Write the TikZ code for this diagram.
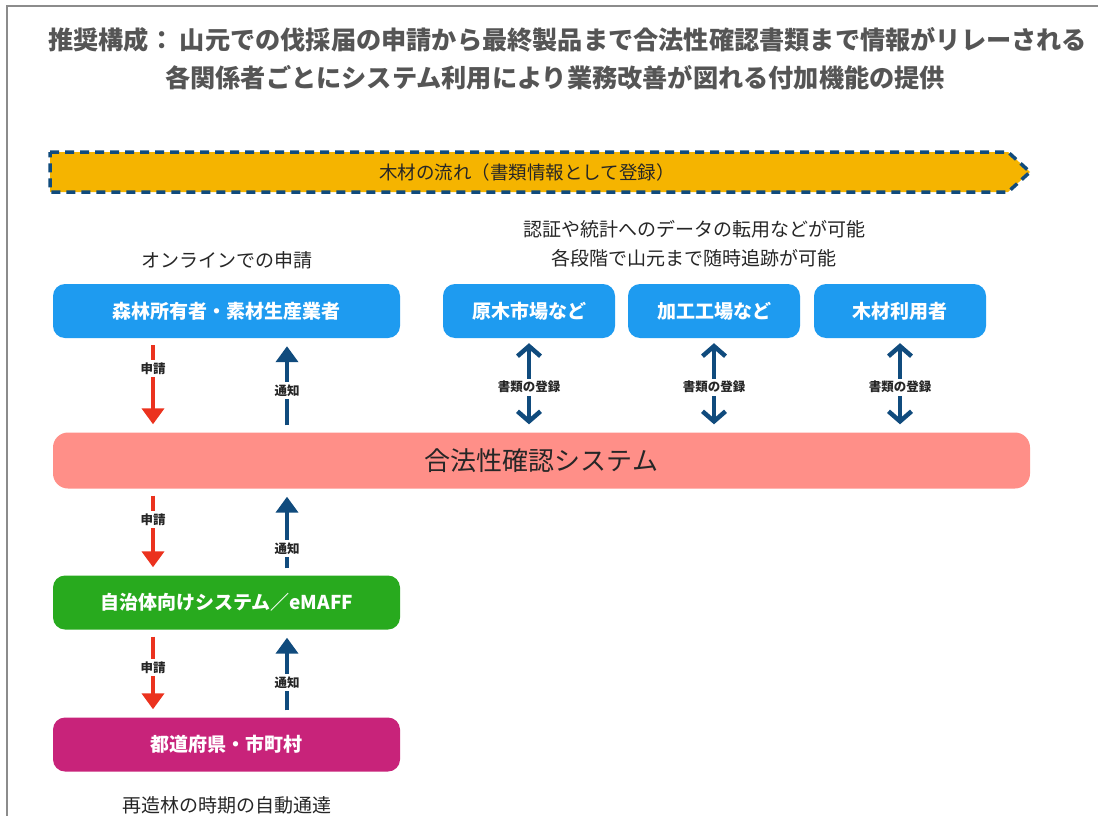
\documentclass[tikz,border=0pt]{standalone}
\usepackage{fontspec}
\setmainfont{Noto Sans CJK JP}
\usetikzlibrary{arrows.meta,positioning}

\definecolor{boxblue}{RGB}{30,155,240}
\definecolor{sysred}{RGB}{255,143,136}
\definecolor{cityg}{RGB}{40,170,30}
\definecolor{prefm}{RGB}{200,35,122}
\definecolor{flowy}{RGB}{245,180,0}
\definecolor{navy}{RGB}{16,75,125}
\definecolor{reqred}{RGB}{235,50,30}
\definecolor{titleg}{RGB}{85,85,85}

\tikzstyle{inout} = [rectangle, inner sep=0pt, text=black!85]
\tikzstyle{headline} = [inout, anchor=west, text=titleg, font=\fontsize{25.2}{28}\selectfont\bfseries]
\tikzstyle{note} = [inout, font=\fontsize{19}{22}\selectfont]
\tikzstyle{actor} = [rectangle, rounded corners=12pt, fill=boxblue, text=white, font=\fontsize{19}{22}\selectfont\bfseries, minimum height=54pt, inner sep=0pt]
\tikzstyle{wide} = [actor, minimum width=347pt]
\tikzstyle{part} = [actor, minimum width=172pt]
\tikzstyle{sysbar} = [rectangle, rounded corners=15pt, fill=sysred, text=black!85, font=\fontsize{26}{30}\selectfont, minimum width=977pt, minimum height=56pt]
\tikzstyle{flowline} = [fill=flowy, draw=navy, line width=3.5pt, dash pattern=on 9pt off 6pt]
\tikzstyle{tag} = [fill=white, inner sep=2.5pt, text=black!85, font=\fontsize{12.5}{14}\selectfont\bfseries]
\tikzstyle{apply} = [-{Triangle[width=22pt,length=16pt]}, line width=4.5pt, reqred, shorten <=7pt, shorten >=8pt]
\tikzstyle{notify} = [apply, navy]
\tikzstyle{regist} = [{Straight Barb[width=23pt,length=10pt]}-{Straight Barb[width=23pt,length=10pt]}, line width=4.5pt, navy, shorten <=5pt, shorten >=8pt]

\begin{document}
\begin{tikzpicture}[x=1pt,y=1pt]
  \def\lx{73.5pt}
  \def\rx{60.5pt}
  \useasboundingbox (0,0) rectangle (1098,-816);
  \draw[line width=1.5pt, black!45] (7,-816) -- (7,-6) -- (1098,-6);

  \node [headline] (head) at (48,-40) {推奨構成： 山元での伐採届の申請から最終製品まで合法性確認書類まで情報がリレーされる};
  \node [headline] (subhead) at (165,-78) {各関係者ごとにシステム利用により業務改善が図れる付加機能の提供};

  \draw[flowline] (50,-152) -- (1008,-152) -- (1030,-172) -- (1008,-192) -- (50,-192) -- cycle;
  \node [note, font=\fontsize{18.5}{20}\selectfont] (flow) at (527,-172) {木材の流れ（書類情報として登録）};

  \node [sysbar] (sys) at (541.5,-460.5) {合法性確認システム};

  \node [wide] (owner) at (226.5,-311) {森林所有者・素材生産業者};
  \node [note, above of=owner, node distance=51pt] (online) {オンラインでの申請};
  \node [wide, fill=cityg, below of=owner, node distance=291.5pt] (city) {自治体向けシステム／eMAFF};
  \node [wide, fill=prefm, below of=city, node distance=142pt] (pref) {都道府県・市町村};
  \node [note, below of=pref, node distance=60.5pt] (regen) {再造林の時期の自動通達};

  \node [part, right of=owner, node distance=302.5pt] (market) {原木市場など};
  \node [part, right of=market, node distance=185pt] (factory) {加工工場など};
  \node [part, right of=factory, node distance=186pt] (user) {木材利用者};

  \node [note] (reuse) at (694,-229) {認証や統計へのデータの転用などが可能};
  \node [note, below of=reuse, node distance=29pt] (trace) {各段階で山元まで随時追跡が可能};

  % owner <-> system
  \draw [apply] ([xshift=-\lx]owner.south) -- node[tag,pos=.32] {申請} ([xshift=-\lx]owner.south |- sys.north);
  \draw [notify] ([xshift=\rx]owner.south |- sys.north) -- node[tag,pos=.44] {通知} ([xshift=\rx]owner.south);

  % system <-> city
  \draw [apply] ([xshift=-\lx]city.north |- sys.south) -- node[tag,pos=.36] {申請} ([xshift=-\lx]city.north);
  \draw [notify] ([xshift=\rx]city.north) -- node[tag,pos=.31] {通知} ([xshift=\rx]city.north |- sys.south);

  % city <-> pref
  \draw [apply] ([xshift=-\lx]city.south) -- node[tag,pos=.43] {申請} ([xshift=-\lx]pref.north);
  \draw [notify] ([xshift=\rx]pref.north) -- node[tag,pos=.40] {通知} ([xshift=\rx]city.south);

  \foreach \p in {market,factory,user}
    \draw [regist] (\p.south) -- node[tag,pos=.52] {書類の登録} (\p.south |- sys.north);
\end{tikzpicture}
\end{document}
